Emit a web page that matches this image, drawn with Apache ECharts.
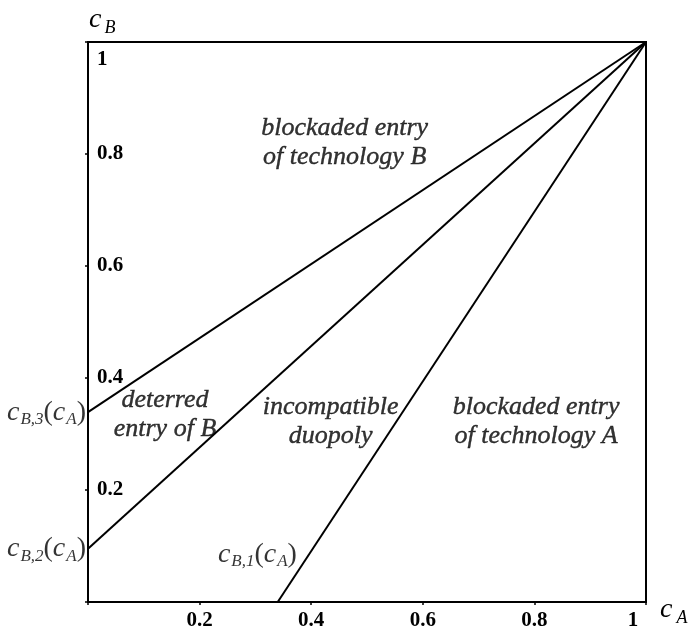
<!DOCTYPE html>
<html>
<head>
<meta charset="utf-8">
<script src="https://cdn.jsdelivr.net/npm/echarts@6/dist/echarts.min.js"></script>
<style>html,body{margin:0;padding:0;background:#fff}#c{width:697px;height:635px}</style>
</head>
<body>
<div id="c"></div>
<script>
// ---- data ----
const xTickLabels = ['', '0.2', '0.4', '0.6', '0.8', '1'];
const yTickLabels = ['', '0.2', '0.4', '0.6', '0.8', '1'];
const lineB3 = [[0, 0.339], [1, 1]];
const lineB2 = [[0, 0.095], [1, 1]];
const lineB1 = [[0.34, 0], [1, 1]];
const regionTexts = ['blockaded entry\nof technology B', 'deterred\nentry of B', 'incompatible\nduopoly', 'blockaded entry\nof technology A'];
const regionX = [0.46, 0.138, 0.435, 0.803];
const regionY = [0.82, 0.335, 0.322, 0.322];
const curveLabels = ['{c|c}{s|B,3}{p|(}{c|c}{s|A}{p|)}', '{c|c}{s|B,2}{p|(}{c|c}{s|A}{p|)}', '{c|c}{s|B,1}{p|(}{c|c}{s|A}{p|)}'];
const curveLabelX = [0, 0, 0.378];
const curveLabelY = [0.339, 0.095, 0.085];

const serif = '"Liberation Serif", "Times New Roman", serif';
const black = '#000';
const richC = {
  c: {fontFamily: serif, fontStyle: 'italic', fontSize: 28, color: black},
  s: {fontFamily: serif, fontStyle: 'italic', fontSize: 17, color: black, padding: [15, 0, 0, 1]},
  p: {fontFamily: serif, fontSize: 28, color: black}
};
const tickFont = {fontFamily: serif, fontWeight: 'bold', fontSize: 21, color: black};

const chart = echarts.init(document.getElementById('c'));
chart.setOption({
  animation: false,
  backgroundColor: '#fff',
  grid: {left: 88, top: 42, width: 558, height: 560, show: true, borderColor: black, borderWidth: 2, backgroundColor: 'transparent'},
  xAxis: {
    type: 'value', min: 0, max: 1, interval: 0.2,
    axisLine: {show: true, lineStyle: {color: black, width: 2}},
    axisTick: {show: true, length: 3, lineStyle: {color: black, width: 1.5}},
    splitLine: {show: false},
    axisLabel: Object.assign({
      margin: 8,
      formatter: (v, i) => { const t = xTickLabels[i] || ''; return t === '1' ? '{one|1}' : t; },
      rich: {one: Object.assign({padding: [0, 26, 0, 0]}, tickFont)}
    }, tickFont)
  },
  yAxis: {
    type: 'value', min: 0, max: 1, interval: 0.2,
    axisLine: {show: true, lineStyle: {color: black, width: 2}},
    axisTick: {show: true, length: 3, lineStyle: {color: black, width: 1.5}},
    splitLine: {show: false},
    axisLabel: Object.assign({
      inside: true, margin: 9,
      formatter: (v, i) => { const t = yTickLabels[i] || ''; return t === '1' ? '{one|1}' : t; },
      rich: {one: Object.assign({padding: [36, 0, 0, 0]}, tickFont)}
    }, tickFont)
  },
  graphic: [
    {type: 'text', left: 89, top: 6, style: {
      text: '{c|c}{s|B}', rich: {
        c: {fontFamily: serif, fontStyle: 'italic', fontSize: 28, color: black},
        s: {fontFamily: serif, fontStyle: 'italic', fontSize: 18, color: black, padding: [16, 0, 0, 3]}
      }}},
    {type: 'text', left: 660, top: 596, style: {
      text: '{c|c}{s|A}', rich: {
        c: {fontFamily: serif, fontStyle: 'italic', fontSize: 28, color: black},
        s: {fontFamily: serif, fontStyle: 'italic', fontSize: 18, color: black, padding: [16, 0, 0, 4]}
      }}}
  ],
  series: [
    {type: 'line', data: lineB3, symbol: 'none', lineStyle: {color: black, width: 2}},
    {type: 'line', data: lineB2, symbol: 'none', lineStyle: {color: black, width: 2}},
    {type: 'line', data: lineB1, symbol: 'none', lineStyle: {color: black, width: 2}},
    {type: 'scatter', symbolSize: 0, silent: true,
      data: regionTexts.map((t, i) => ({name: t, value: [regionX[i], regionY[i]]})),
      label: {show: true, position: 'inside', formatter: p => p.name, color: black,
        fontFamily: serif, fontStyle: 'italic', fontSize: 26, lineHeight: 29,
        textBorderColor: black, textBorderWidth: 0.4}},
    {type: 'scatter', symbolSize: 0, silent: true,
      data: curveLabels.map((t, i) => ({name: t, value: [curveLabelX[i], curveLabelY[i]]})),
      label: {show: true, position: 'left', distance: 2, formatter: p => p.name, rich: richC}}
  ]
});
</script>
</body>
</html>
